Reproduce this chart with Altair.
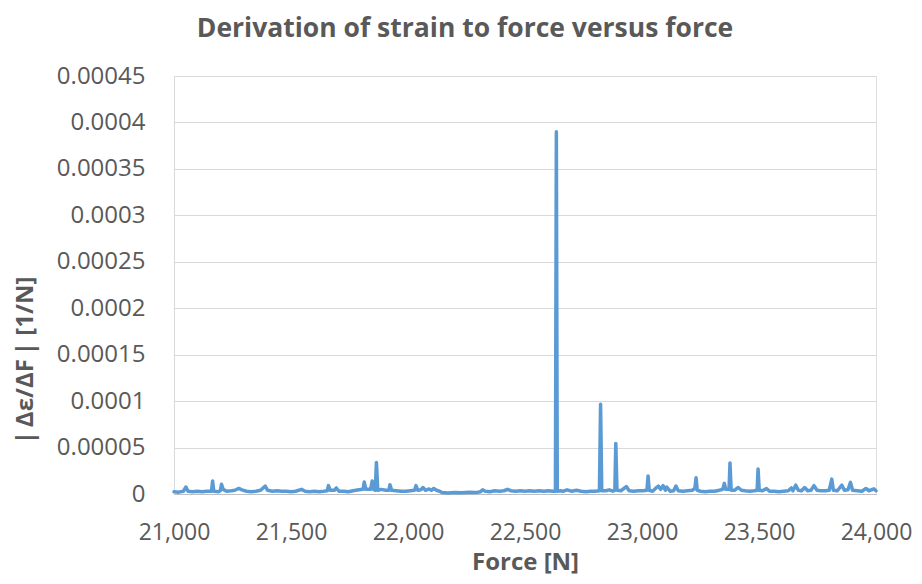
import altair as alt
import pandas as pd

force = [
    21000, 21020, 21040, 21051, 21060, 21080, 21100, 21120, 21140, 21160,
    21165, 21170, 21190, 21198, 21203, 21210, 21225, 21245, 21260, 21277,
    21290, 21310, 21330, 21350, 21370, 21390, 21400, 21420, 21440, 21460,
    21480, 21500, 21520, 21545, 21560, 21580, 21600, 21620, 21640, 21655,
    21660, 21668, 21685, 21694, 21705, 21725, 21745, 21765, 21790, 21808,
    21813, 21820, 21840, 21847, 21853, 21860, 21865, 21871, 21885, 21905,
    21918, 21923, 21930, 21950, 21970, 21990, 22010, 22028, 22034, 22042,
    22055, 22064, 22075, 22090, 22100, 22110, 22122, 22135, 22145, 22170,
    22200, 22230, 22260, 22290, 22310, 22319, 22330, 22350, 22370, 22390,
    22410, 22425, 22440, 22460, 22480, 22500, 22520, 22540, 22560, 22580,
    22600, 22620, 22630, 22634, 22638, 22650, 22665, 22680, 22700, 22720,
    22740, 22760, 22780, 22800, 22818, 22823, 22828, 22845, 22860, 22875,
    22884, 22888, 22893, 22910, 22933, 22945, 22965, 22985, 23005, 23021,
    23026, 23031, 23045, 23060, 23070, 23080, 23090, 23100, 23106, 23120,
    23135, 23145, 23155, 23175, 23195, 23215, 23226, 23231, 23236, 23250,
    23270, 23290, 23310, 23330, 23345, 23352, 23358, 23372, 23376, 23381,
    23395, 23411, 23425, 23440, 23460, 23480, 23492, 23496, 23501, 23515,
    23532, 23545, 23565, 23585, 23605, 23625, 23638, 23645, 23657, 23668,
    23682, 23695, 23708, 23722, 23735, 23748, 23765, 23785, 23800, 23811,
    23818, 23835, 23854, 23865, 23880, 23891, 23900, 23920, 23940, 23957,
    23970, 23991, 24000,
]

deriv = [
    2.5e-6, 2.0e-6, 3.0e-6, 7.5e-6, 3.0e-6, 2.5e-6, 3.0e-6, 2.5e-6, 3.0e-6, 3.0e-6,
    1.4e-5, 3.0e-6, 2.5e-6, 3.5e-6, 1.05e-5, 5.0e-6, 3.0e-6, 3.5e-6, 4.0e-6, 6.0e-6,
    4.5e-6, 3.0e-6, 2.5e-6, 3.0e-6, 4.0e-6, 8.5e-6, 4.0e-6, 3.0e-6, 3.5e-6, 3.0e-6,
    3.0e-6, 2.5e-6, 3.0e-6, 5.0e-6, 3.0e-6, 2.5e-6, 3.0e-6, 2.5e-6, 3.0e-6, 3.5e-6,
    9.0e-6, 4.0e-6, 4.0e-6, 6.5e-6, 3.0e-6, 3.0e-6, 2.5e-6, 3.5e-6, 4.5e-6, 5.0e-6,
    1.3e-5, 5.0e-6, 5.0e-6, 1.4e-5, 5.0e-6, 4.0e-6, 3.4e-5, 4.0e-6, 5.0e-6, 4.0e-6,
    4.0e-6, 1.0e-5, 4.0e-6, 3.5e-6, 3.0e-6, 3.0e-6, 3.5e-6, 4.0e-6, 9.0e-6, 4.0e-6,
    4.5e-6, 7.0e-6, 4.0e-6, 5.5e-6, 4.0e-6, 6.0e-6, 4.0e-6, 3.0e-6, 1.5e-6, 1.2e-6,
    1.5e-6, 1.3e-6, 1.8e-6, 1.5e-6, 2.5e-6, 4.5e-6, 3.0e-6, 2.5e-6, 3.5e-6, 3.0e-6,
    3.5e-6, 5.0e-6, 3.5e-6, 3.0e-6, 3.5e-6, 3.0e-6, 3.5e-6, 3.0e-6, 3.5e-6, 3.0e-6,
    3.5e-6, 3.0e-6, 3.0e-6, 3.9e-4, 3.0e-6, 3.5e-6, 3.0e-6, 4.5e-6, 3.0e-6, 4.0e-6,
    3.0e-6, 2.5e-6, 3.0e-6, 3.0e-6, 3.5e-6, 9.65e-5, 3.5e-6, 3.5e-6, 4.5e-6, 3.0e-6,
    4.0e-6, 5.45e-5, 4.0e-6, 3.5e-6, 8.0e-6, 3.5e-6, 3.0e-6, 3.5e-6, 3.5e-6, 4.0e-6,
    1.95e-5, 4.0e-6, 3.0e-6, 6.5e-6, 8.5e-6, 5.0e-6, 9.0e-6, 4.0e-6, 7.5e-6, 3.0e-6,
    3.5e-6, 8.5e-6, 3.5e-6, 3.0e-6, 3.5e-6, 4.0e-6, 6.0e-6, 1.75e-5, 4.0e-6, 3.0e-6,
    2.5e-6, 3.0e-6, 3.0e-6, 4.0e-6, 5.0e-6, 1.15e-5, 5.0e-6, 5.0e-6, 3.35e-5, 4.0e-6,
    4.0e-6, 7.0e-6, 4.0e-6, 3.5e-6, 3.0e-6, 3.5e-6, 4.0e-6, 2.7e-5, 4.0e-6, 3.5e-6,
    6.0e-6, 3.0e-6, 3.0e-6, 2.5e-6, 3.0e-6, 3.5e-6, 6.5e-6, 3.5e-6, 9.5e-6, 4.0e-6,
    3.5e-6, 7.0e-6, 3.5e-6, 4.0e-6, 9.0e-6, 4.0e-6, 3.5e-6, 3.5e-6, 4.0e-6, 1.6e-5,
    4.0e-6, 3.5e-6, 9.5e-6, 4.0e-6, 4.5e-6, 1.25e-5, 4.0e-6, 3.5e-6, 3.0e-6, 6.0e-6,
    3.5e-6, 5.5e-6, 3.5e-6,
]

x_ticks = [21000, 21500, 22000, 22500, 23000, 23500, 24000]
y_ticks = [0, 0.00005, 0.0001, 0.00015, 0.0002, 0.00025, 0.0003, 0.00035, 0.0004, 0.00045]

df = pd.DataFrame({"force": force, "deriv": deriv})

FONT = "Open Sans"
TXT = "#595959"

chart = (
    alt.Chart(df)
    .mark_line(color="#5B9BD5", strokeWidth=3.5, strokeJoin="round", strokeCap="round")
    .encode(
        x=alt.X(
            "force:Q",
            scale=alt.Scale(domain=[21000, 24000], nice=False, zero=False),
            axis=alt.Axis(
                values=x_ticks,
                format=",.0f",
                title="Force [N]",
                grid=False,
                ticks=False,
                domainColor="#BFBFBF",
                domainWidth=1,
                labelFont=FONT,
                labelFontSize=23,
                labelColor=TXT,
                labelBaseline="alphabetic",
                labelPadding=45,
                labelFlush=False,
                labelOverlap=False,
                titleFont=FONT,
                titleFontSize=24,
                titleFontWeight="bold",
                titleColor=TXT,
                titleBaseline="alphabetic",
                titleY=75,
            ),
        ),
        y=alt.Y(
            "deriv:Q",
            scale=alt.Scale(domain=[0, 0.00045], nice=False),
            axis=alt.Axis(
                values=y_ticks,
                format="~g",
                title="|\u2009Δε/ΔF\u2009| [1/N]",
                grid=True,
                gridColor="#D9D9D9",
                gridWidth=1,
                ticks=False,
                domainColor="#D9D9D9",
                domainWidth=1,
                labelFont=FONT,
                labelFontSize=24,
                labelColor=TXT,
                labelPadding=29,
                labelOverlap=False,
                labelFlush=False,
                titleFont=FONT,
                titleFontSize=24,
                titleFontWeight="bold",
                titleColor=TXT,
                titleAngle=270,
                titleAlign="center",
                titleBaseline="middle",
                titleX=-149,
                titleY=284,
            ),
        ),
    )
    .properties(
        width=702,
        height=418,
        autosize=alt.AutoSizeParams(type="none"),
        padding={"left": 166, "top": 68, "right": 38, "bottom": 82},
        title=alt.TitleParams(
            text="Derivation of strain to force versus force",
            font=FONT,
            fontSize=26.5,
            fontWeight="bold",
            color=TXT,
            anchor="middle",
            baseline="alphabetic",
            offset=1,
            dx=-60,
        ),
    )
    .configure_view(stroke=None)
    .configure(background="white")
)

chart.save("out.html", embed_options={"renderer": "svg", "actions": False})
